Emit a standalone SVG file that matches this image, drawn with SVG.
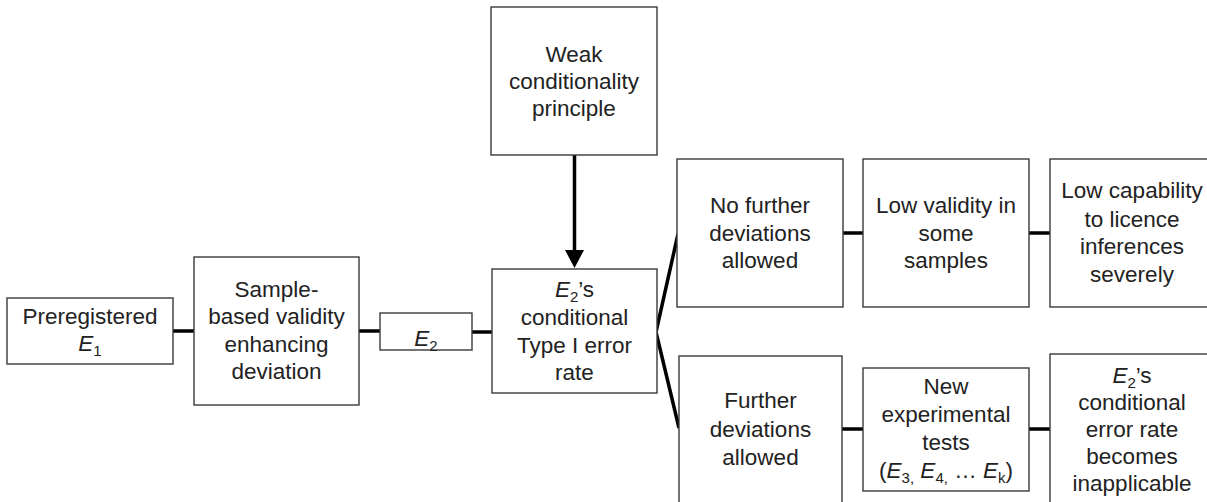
<svg xmlns="http://www.w3.org/2000/svg" width="1207" height="502" viewBox="0 0 1207 502">
<style>
.box{fill:#fff;stroke:#3a3a3a;stroke-width:1.4}
.t{font-family:"Liberation Sans",Arial,sans-serif;font-size:22.5px;fill:#222;text-anchor:middle}
.i{font-style:italic}
.conn{stroke:#000;stroke-width:3.5;fill:none}
.head{fill:#000}
</style>
<g id="connectors">
<line class="conn" x1="173" y1="331" x2="194" y2="331"/>
<line class="conn" x1="359" y1="331" x2="380" y2="331"/>
<line class="conn" x1="472" y1="332" x2="492" y2="332"/>
<line class="conn" x1="574.5" y1="155" x2="574.5" y2="251"/>
<path class="head" d="M565,250 L584,250 L574.5,268 Z"/>
<polyline class="conn" points="678,234 656,332 679,428"/>
<line class="conn" x1="843" y1="233" x2="863" y2="233"/>
<line class="conn" x1="1029" y1="233" x2="1050" y2="233"/>
<line class="conn" x1="842" y1="429" x2="863" y2="429"/>
<line class="conn" x1="1029" y1="429" x2="1050" y2="429"/>
</g>
<g id="n-prereg">
<rect class="box" x="7" y="298" width="166" height="66"/>
<text class="t" x="90" y="324">Preregistered</text>
<text class="t" x="90" y="351"><tspan class="i">E</tspan><tspan font-size="15" dy="5">1</tspan></text>
</g>
<g id="n-sample">
<rect class="box" x="194" y="257" width="165" height="148"/>
<text class="t" x="276.5" y="297">Sample-</text>
<text class="t" x="276.5" y="324">based validity</text>
<text class="t" x="276.5" y="352">enhancing</text>
<text class="t" x="276.5" y="379">deviation</text>
</g>
<g id="n-e2">
<rect class="box" x="380" y="313" width="92" height="37"/>
<text class="t" x="426" y="346"><tspan class="i">E</tspan><tspan font-size="15" dy="5">2</tspan></text>
</g>
<g id="n-weak">
<rect class="box" x="491" y="7" width="166" height="148"/>
<text class="t" x="574" y="62">Weak</text>
<text class="t" x="574" y="89">conditionality</text>
<text class="t" x="574" y="116">principle</text>
</g>
<g id="n-cond">
<rect class="box" x="492" y="269" width="165" height="124"/>
<text class="t" x="574.5" y="297"><tspan class="i">E</tspan><tspan font-size="15" dy="5">2</tspan><tspan dy="-5">’s</tspan></text>
<text class="t" x="574.5" y="325">conditional</text>
<text class="t" x="574.5" y="353">Type I error</text>
<text class="t" x="574.5" y="380">rate</text>
</g>
<g id="n-nofurther">
<rect class="box" x="677" y="159" width="166" height="148"/>
<text class="t" x="760" y="213">No further</text>
<text class="t" x="760" y="241">deviations</text>
<text class="t" x="760" y="268">allowed</text>
</g>
<g id="n-lowval">
<rect class="box" x="863" y="159" width="166" height="148"/>
<text class="t" x="946" y="213">Low validity in</text>
<text class="t" x="946" y="241">some</text>
<text class="t" x="946" y="268">samples</text>
</g>
<g id="n-lowcap">
<rect class="box" x="1050" y="159" width="166" height="148"/>
<text class="t" x="1132" y="198">Low capability</text>
<text class="t" x="1132" y="227">to licence</text>
<text class="t" x="1132" y="254">inferences</text>
<text class="t" x="1132" y="282">severely</text>
</g>
<g id="n-further">
<rect class="box" x="679" y="356" width="163" height="160"/>
<text class="t" x="760.5" y="408">Further</text>
<text class="t" x="760.5" y="437">deviations</text>
<text class="t" x="760.5" y="465">allowed</text>
</g>
<g id="n-new">
<rect class="box" x="863" y="368" width="166" height="123"/>
<text class="t" x="946" y="394">New</text>
<text class="t" x="946" y="422">experimental</text>
<text class="t" x="946" y="450">tests</text>
<text class="t" x="946" y="478">(<tspan class="i">E</tspan><tspan font-size="15" dy="5">3,</tspan><tspan dy="-5"> </tspan><tspan class="i">E</tspan><tspan font-size="15" dy="5">4,</tspan><tspan dy="-5"> … </tspan><tspan class="i">E</tspan><tspan font-size="15" dy="5">k</tspan><tspan dy="-5">)</tspan></text>
</g>
<g id="n-e2cond">
<rect class="box" x="1050" y="354" width="166" height="160"/>
<text class="t" x="1132" y="383"><tspan class="i">E</tspan><tspan font-size="15" dy="5">2</tspan><tspan dy="-5">’s</tspan></text>
<text class="t" x="1132" y="410">conditional</text>
<text class="t" x="1132" y="437">error rate</text>
<text class="t" x="1132" y="464">becomes</text>
<text class="t" x="1132" y="491">inapplicable</text>
</g>
</svg>
